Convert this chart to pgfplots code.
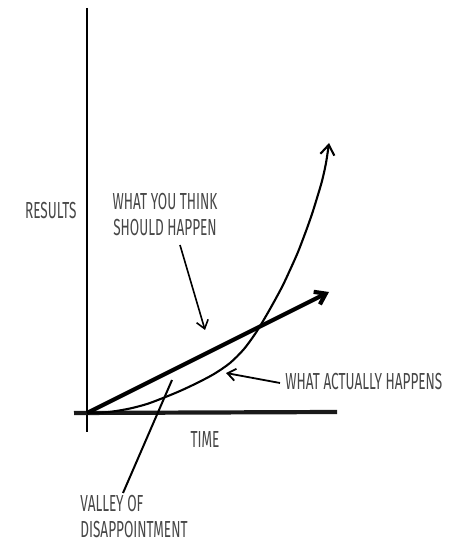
\documentclass[border=0pt]{standalone}
\usepackage{fontspec}
\setmainfont{Fira Sans}[FakeStretch=0.585]
\usepackage{pgfplots}
\pgfplotsset{compat=1.18}
\usetikzlibrary{arrows.meta}
\tikzset{lbl/.style={font=\fontsize{11.6}{13}\selectfont, text=black!72, inner sep=0pt}}

% Curve points in a 461 x 544 canvas (y measured upward)
\pgfplotstableread{
x   y
87  131
100 131.3
113 132.5
130 135.5
147 140
163 146
180 153
197 161
214 170
230 181
244 195
257 213
270 235
282 257
290 274
298 292
306 313
312 330
317 346
322 363
326 381
329 401
}\actual

\begin{document}
\begin{tikzpicture}
\begin{axis}[
  width=230.5pt, height=272pt, scale only axis,
  xmin=0, xmax=461, ymin=0, ymax=544,
  axis lines=none, clip=false,
]
% axes
\addplot[black, line width=1.4pt] coordinates {(87,536) (87,112)};
\addplot[black!90, line width=2.1pt] coordinates {(74,131) (337,132)};
% what you think should happen
\addplot[black, line width=2.1pt, -{Straight Barb[length=5pt,width=7pt]}] coordinates {(87,131) (329,252)};
% what actually happens
\addplot[black, line width=1.05pt, smooth, -{Straight Barb[length=5pt,width=7pt]}] table {\actual};
% annotation pointers
\addplot[black, line width=0.8pt, -{Straight Barb[length=4pt,width=6pt]}] coordinates {(180,299) (205,214)};
\addplot[black, line width=0.9pt, -{Straight Barb[length=4pt,width=6pt]}] coordinates {(280,161) (226,171)};
\addplot[black, line width=1pt] coordinates {(123,51) (172,164)};
% labels
\node[lbl, anchor=east] at (axis cs:77,333) {RESULTS};
\node[lbl, align=center] at (axis cs:165,329) {WHAT YOU THINK\\SHOULD HAPPEN};
\node[lbl, anchor=west] at (axis cs:285,162) {WHAT ACTUALLY HAPPENS};
\node[lbl] at (axis cs:205,104) {TIME};
\node[lbl, anchor=west, align=left] at (axis cs:80,27) {VALLEY OF\\DISAPPOINTMENT};
\end{axis}
\pgfresetboundingbox
\useasboundingbox (0,0) rectangle (230.5pt,272pt);
\end{tikzpicture}
\end{document}
